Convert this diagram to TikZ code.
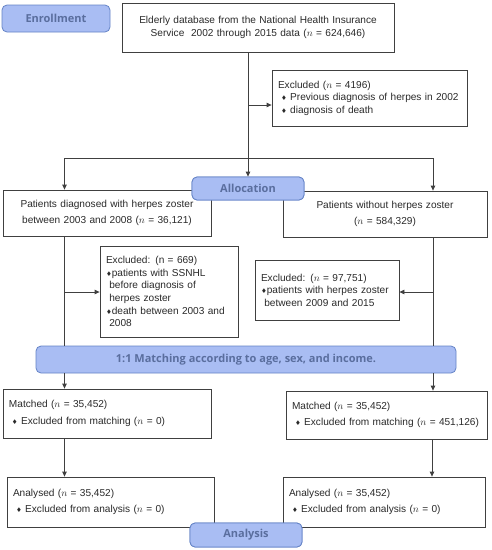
\documentclass[tikz,border=0pt]{standalone}
\usepackage{fontspec}
\setmainfont{Liberation Sans}
\newfontfamily\pillfont{Open Sans}
\newfontfamily\symfont{DejaVu Sans}
\usetikzlibrary{arrows.meta}
\definecolor{boxc}{HTML}{404040}
\definecolor{txtc}{HTML}{2A2A2A}
\definecolor{pillfill}{HTML}{A9BDF3}
\definecolor{pilldraw}{HTML}{6483C6}
\definecolor{pilltxt}{HTML}{5A6E9E}
\newcommand{\dmd}{{\symfont\fontsize{6.5}{6.5}\selectfont ♦}}
\newcommand{\idmd}{\hspace*{3pt}\dmd\ }
\newcommand{\nn}{$n$}
\begin{document}
\begin{tikzpicture}[x=1pt,y=-1pt,
  box/.style={draw=boxc, line width=0.8pt, fill=white, inner xsep=7pt, inner ysep=2pt,
    text=txtc, font=\fontsize{10.1}{12.6}\selectfont},
  pill/.style={draw=pilldraw, line width=0.8pt, fill=pillfill, rounded corners=5pt,
    text=pilltxt, font=\pillfont\bfseries\fontsize{11}{13}\selectfont, inner sep=0pt},
  arr/.style={draw=boxc, line width=0.8pt, -{Triangle[length=5pt,width=4.5pt]}},
  ln/.style={draw=boxc, line width=0.8pt}]
\useasboundingbox (0,0) rectangle (491,550);
\fill[white] (0,0) rectangle (491,550);

% pills and boxes
\node[pill, minimum width=108pt, minimum height=27pt] (enroll) at (56,18.5) {Enrollment};
\node[box, align=center, minimum width=272pt, minimum height=49pt, text width=258pt] (top) at (258,27.5)
  {Elderly database from the National Health Insurance\\ Service\ \ 2002 through 2015 data (\nn{} = 624,646)};
\node[box, align=left, minimum width=195pt, minimum height=56pt, text width=183pt, inner xsep=6pt] (excl1) at (369.5,98)
  {Excluded (\nn{} = 4196)\\ \idmd Previous diagnosis of herpes in 2002\\ \idmd diagnosis of death};
\node[box, align=center, minimum width=208pt, minimum height=46pt, text width=194pt] (pL) at (107,213)
  {Patients diagnosed with herpes zoster\\[3pt] between 2003 and 2008 (\nn{} = 36,121)};
\node[box, align=center, minimum width=204pt, minimum height=46pt, text width=190pt] (pR) at (385,214)
  {Patients without herpes zoster\\[3pt] (\nn{} = 584,329)};
\node[pill, minimum width=112pt, minimum height=23pt] (alloc) at (248,188.5) {Allocation};
\node[box, align=left, minimum width=138pt, minimum height=91pt, text width=126pt, inner xsep=6pt] (exL) at (169,291.5)
  {Excluded: (n = 669)\\ \dmd patients with SSNHL\\ \ before diagnosis of\\ \ herpes zoster\\ \dmd death between 2003 and\\ \ 2008};
\node[box, align=left, minimum width=144pt, minimum height=60pt, text width=132pt, inner xsep=6pt] (exR) at (327,290)
  {Excluded: (\nn{} = 97,751)\\ \dmd patients with herpes zoster\\ \ between 2009 and 2015};
\node[pill, minimum width=420pt, minimum height=27pt] (match) at (246,359.5)
  {1:1 Matching according to age, sex, and income.};
\node[box, align=left, minimum width=208pt, minimum height=49pt, text width=196pt, inner xsep=6pt] (mL) at (107,413.5)
  {Matched (\nn{} = 35,452)\\[4pt] \idmd Excluded from matching (\nn{} = 0)};
\node[box, align=left, minimum width=201pt, minimum height=48pt, text width=189pt, inner xsep=6pt] (mR) at (386.5,415)
  {Matched (\nn{} = 35,452)\\[4pt] \idmd Excluded from matching (\nn{} = 451,126)};
\node[box, align=left, minimum width=207pt, minimum height=50pt, text width=195pt, inner xsep=6pt] (aL) at (110.5,502)
  {Analysed (\nn{} = 35,452)\\[4pt] \idmd Excluded from analysis (\nn{} = 0)};
\node[box, align=left, minimum width=202pt, minimum height=50pt, text width=190pt, inner xsep=6pt] (aR) at (384,502)
  {Analysed (\nn{} = 35,452)\\[4pt] \idmd Excluded from analysis (\nn{} = 0)};
\node[pill, minimum width=112pt, minimum height=24pt] (anal) at (246,535) {Analysis};

% helper coordinates
\coordinate (cx) at (248,0);
\coordinate (lx) at (64.5,0);
\coordinate (rx) at (433,0);
\coordinate (rs) at (432,0);
\coordinate (split) at (248,158);
\coordinate (ex1y) at (0,105);
\coordinate (exy) at (0,292);

% connectors
\draw[arr] (top.south -| cx) -- (alloc.north);
\draw[arr] (cx |- ex1y) -- (excl1.west |- ex1y);
\draw[ln] (lx |- split) -- (rx |- split);
\draw[arr] (lx |- split) -- (lx |- pL.north);
\draw[arr] (rx |- split) -- (rx |- pR.north);
\draw[ln] (lx |- pL.south) -- (lx |- match.north);
\draw[ln] (rx |- pR.south) -- (rx |- match.north);
\draw[arr] (lx |- exy) -- (exL.west |- exy);
\draw[arr] (rx |- exy) -- (exR.east |- exy);
\draw[arr] (lx |- match.south) -- (lx |- mL.north);
\draw[arr] (rx |- match.south) -- (rx |- mR.north);
\draw[arr] (lx |- mL.south) -- (lx |- aL.north);
\draw[arr] (rs |- mR.south) -- (rs |- aR.north);

% redraw pills on top
\node[pill, minimum width=112pt, minimum height=23pt] at (alloc) {Allocation};
\node[pill, minimum width=112pt, minimum height=24pt] at (anal) {Analysis};
\end{tikzpicture}
\end{document}
